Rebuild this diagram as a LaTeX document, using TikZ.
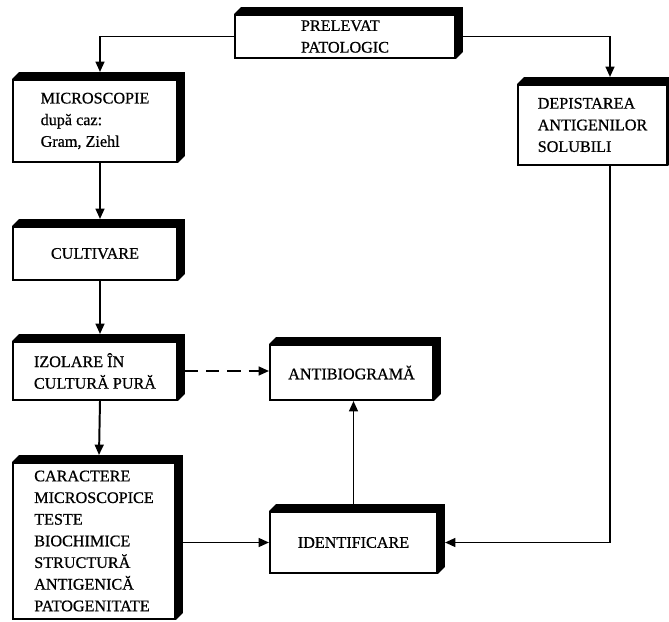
\documentclass[tikz,border=0pt]{standalone}
\usepackage{fontspec}
\setmainfont{Liberation Serif}
\newfontfamily\tipar{Liberation Serif}[FakeBold=0.7]
\usetikzlibrary{arrows.meta}

\tikzset{
	caseta/.style={draw, line width=1.4pt, fill=white, inner sep=0pt, align=left, font=\tipar\fontsize{11.5}{15.4}\selectfont},
	sageata/.style={line width=1.4pt, -{Triangle[length=2.6mm,width=2.2mm]}},
	punctat/.style={dash pattern=on 0.33cm off 0.2cm},
}
\newcommand{\relief}{0.175}

\begin{document}
\begin{tikzpicture}
	\useasboundingbox (0,0) rectangle (16.725,15.525);
	% Casete
		% Sus
			\node[caseta, minimum width=5.5cm, minimum height=1.075cm] (prelevat) at (8.625,14.6125) {PRELEVAT\\PATOLOGIC};
			\node[caseta, minimum width=4.1cm, minimum height=2.05cm] (microscopie) at (2.375,12.5) {MICROSCOPIE\\după caz:\\Gram, Ziehl};
			\node[caseta, minimum width=3.725cm, minimum height=2cm] (depistare) at (14.8125,12.4) {DEPISTAREA\\ANTIGENILOR\\SOLUBILI};
		% Coloana din stanga
			\node[caseta, minimum width=4.1cm, minimum height=1.325cm] (cultivare) at (2.375,9.1875) {CULTIVARE};
			\node[caseta, minimum width=4.1cm, minimum height=1.45cm] (izolare) at (2.375,6.25) {IZOLARE ÎN\\CULTURĂ PURĂ};
			\node[caseta, minimum width=4.05cm, minimum height=3.9cm] (caractere) at (2.35,2) {CARACTERE\\MICROSCOPICE\\TESTE\\BIOCHIMICE\\STRUCTURĂ\\ANTIGENICĂ\\PATOGENITATE};
		% Mijloc
			\node[caseta, minimum width=4.075cm, minimum height=1.375cm] (antibiograma) at (8.7875,6.2125) {ANTIBIOGRAMĂ};
			\node[caseta, minimum width=4.175cm, minimum height=1.525cm] (identificare) at (8.8375,1.9625) {IDENTIFICARE};

	% Relief (marginea groasa sus si dreapta)
		\foreach \n in {prelevat,microscopie,depistare,cultivare,izolare,caractere,antibiograma,identificare}
			\fill (\n.north west) -- ++(\relief,\relief) -- ([shift={(\relief,\relief)}]\n.north east) -- ([shift={(\relief,\relief)}]\n.south east) -- (\n.south east) -- (\n.north east) -- cycle;

	% Sageti
		\draw[sageata] (prelevat.west) -| ([xshift=0.125cm, yshift=\relief cm]microscopie.north);
		\draw[sageata] (prelevat.east) -| ([xshift=0.4375cm, yshift=\relief cm]depistare.north);
		\draw[sageata] ([xshift=0.125cm]microscopie.south) -- ([xshift=0.125cm, yshift=\relief cm]cultivare.north);
		\draw[sageata] ([xshift=0.125cm]cultivare.south) -- ([xshift=0.125cm, yshift=\relief cm]izolare.north);
		\draw[sageata] ([xshift=0.125cm]izolare.south) -- ([xshift=0.125cm, yshift=\relief cm]caractere.north);
		\draw[sageata, punctat] ([xshift=\relief cm]izolare.east) -- (izolare.east -| antibiograma.west);
		\draw[sageata] ([xshift=\relief cm]caractere.east |- identificare.west) -- (identificare.west);
		\draw[sageata] (identificare.north) -- (identificare.north |- antibiograma.south);
		\draw[sageata] ([xshift=0.4375cm]depistare.south) |- ([xshift=\relief cm]identificare.east);
\end{tikzpicture}
\end{document}
